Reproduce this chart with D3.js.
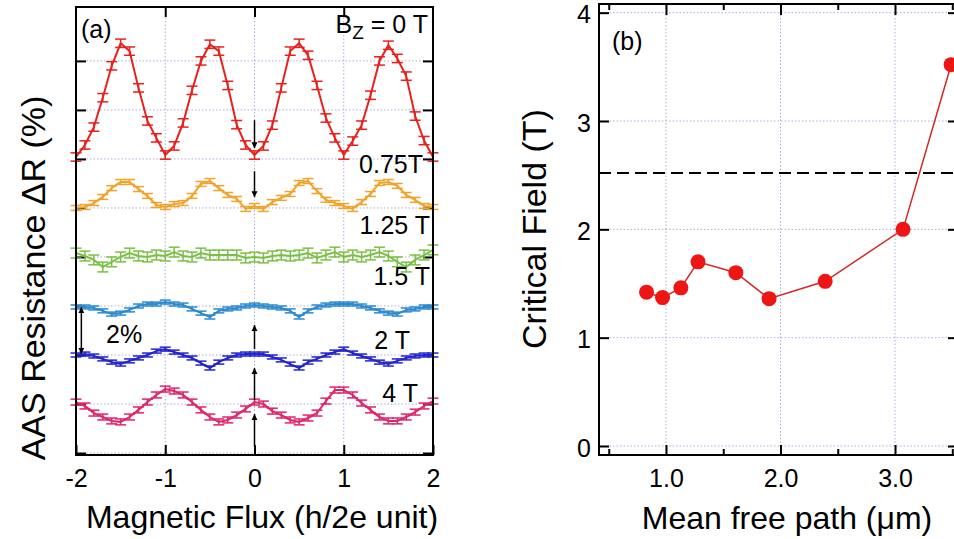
<!DOCTYPE html>
<html>
<head>
<meta charset="utf-8">
<script src="https://cdn.jsdelivr.net/npm/d3@7"></script>
<style>
  body { margin: 0; background: #fff; }
  svg { display: block; font-family: "Liberation Sans", Arial, sans-serif; }
</style>
</head>
<body>
<svg width="954" height="539"></svg>
<script>
// ---- panel (a): AAS oscillations, offset per field ----
const flux = [-2.0, -1.9, -1.8, -1.7, -1.6, -1.5, -1.4, -1.3, -1.2, -1.1, -1.0,
  -0.9, -0.8, -0.7, -0.6, -0.5, -0.4, -0.3, -0.2, -0.1, 0.0,
  0.1, 0.2, 0.3, 0.4, 0.5, 0.6, 0.7, 0.8, 0.9, 1.0,
  1.1, 1.2, 1.3, 1.4, 1.5, 1.6, 1.7, 1.8, 1.9, 2.0];

const fieldLabels = ["0 T", "0.75T", "1.25 T", "1.5 T", "2 T", "4 T"];
const offsets = [12, 10, 8, 6, 4, 2];
const errBars = [0.17, 0.1, 0.2, 0.08, 0.08, 0.12];

const dR_0T = [0.08, 0.57, 1.30, 2.50, 3.80, 4.72, 4.40, 2.90, 1.55, 0.86,
  0.16, 0.53, 1.47, 2.80, 4.00, 4.68, 4.40, 3.00, 1.40, 0.57,
  0.16, 0.53, 1.38, 2.90, 4.40, 4.72, 4.23, 3.00, 1.67, 0.86,
  0.16, 0.73, 1.38, 2.60, 4.00, 4.64, 4.10, 3.38, 1.75, 0.75, 0.08];
const dR_075T = [0.00, 0.04, 0.20, 0.45, 0.81, 1.06, 1.06, 0.77, 0.49, 0.12,
  0.04, 0.16, 0.20, 0.49, 0.98, 1.10, 0.81, 0.53, 0.37, -0.04,
  0.08, -0.04, 0.24, 0.41, 0.57, 1.02, 1.10, 0.69, 0.33, 0.20,
  0.08, -0.04, 0.24, 0.57, 1.02, 1.06, 0.90, 0.53, 0.33, 0.08, 0.04];
const dR_125T = [0.16, 0.04, -0.12, -0.41, -0.20, 0.00, 0.16, 0.04, 0.00, 0.08,
  0.04, 0.20, 0.04, 0.00, 0.16, 0.08, 0.08, 0.08, 0.08, -0.04,
  0.00, -0.04, 0.04, 0.08, 0.04, 0.08, 0.16, -0.04, 0.08, 0.20,
  0.00, 0.08, 0.00, 0.08, 0.20, 0.04, -0.20, -0.41, -0.12, 0.08, 0.29];
const dR_15T = [-0.04, -0.04, -0.08, -0.20, -0.33, -0.29, -0.16, 0.00, 0.08, 0.08,
  0.16, 0.08, 0.04, -0.12, -0.29, -0.45, -0.20, -0.12, -0.08, 0.00,
  0.04, 0.00, -0.04, -0.08, -0.20, -0.45, -0.20, -0.04, 0.04, 0.08,
  0.08, 0.08, 0.00, -0.08, -0.20, -0.29, -0.33, -0.16, -0.12, -0.04, -0.04];
const dR_2T = [0.00, 0.04, -0.04, -0.16, -0.29, -0.37, -0.24, -0.12, 0.00, 0.16,
  0.24, 0.12, 0.00, -0.12, -0.33, -0.53, -0.29, -0.12, 0.00, 0.04,
  0.04, 0.04, -0.08, -0.20, -0.37, -0.53, -0.29, -0.16, 0.00, 0.12,
  0.24, 0.08, -0.04, -0.16, -0.29, -0.37, -0.24, -0.12, -0.04, 0.00, 0.00];
const dR_4T = [0.08, -0.08, -0.37, -0.53, -0.69, -0.73, -0.53, -0.24, 0.08, 0.37,
  0.61, 0.53, 0.37, 0.08, -0.24, -0.53, -0.73, -0.65, -0.45, -0.20,
  0.08, 0.00, -0.29, -0.45, -0.65, -0.73, -0.57, -0.37, 0.12, 0.57,
  0.57, 0.37, 0.04, -0.24, -0.53, -0.69, -0.69, -0.53, -0.33, -0.08, 0.12];

const curves = [dR_0T, dR_075T, dR_125T, dR_15T, dR_2T, dR_4T];
const colors = ["#e8211d", "#f2a32b", "#79c043", "#2b89d0", "#2323cf", "#e0246b"];

// ---- panel (b): critical field vs mean free path ----
const meanFreePath = [0.83, 0.97, 1.13, 1.28, 1.61, 1.90, 2.39, 3.07, 3.49];
const criticalField = [1.42, 1.37, 1.46, 1.70, 1.60, 1.36, 1.52, 2.00, 3.52];
const pauliLimit = 2.52;

const svg = d3.select("svg");
const gridColor = "#a7afdc";

// arrow head
svg.append("defs").append("marker")
    .attr("id", "head")
    .attr("viewBox", "0 0 10 10")
    .attr("refX", 10).attr("refY", 5)
    .attr("markerWidth", 6).attr("markerHeight", 7)
    .attr("markerUnits", "userSpaceOnUse")
    .attr("orient", "auto-start-reverse")
    .append("path").attr("d", "M0,0 L10,5 L0,10 z").attr("fill", "#000");

function styleAxis(g) {
    g.select(".domain").remove();
    g.selectAll(".tick line").attr("stroke", "#000").attr("stroke-width", 2);
    g.selectAll(".tick text").attr("fill", "#000").attr("font-size", 25)
        .attr("font-family", "Liberation Sans, Arial, sans-serif");
}

// ================= panel (a) =================
const xA = d3.scaleLinear().domain([-2, 2]).range([76, 433]);
const yA = d3.scaleLinear().domain([-0.08, 18.2]).range([455, 7]);
const pa = svg.append("g");

pa.selectAll(".vgrid").data([-1, 0, 1]).enter().append("line")
    .attr("x1", d => xA(d)).attr("x2", d => xA(d))
    .attr("y1", yA.range()[1]).attr("y2", yA.range()[0])
    .attr("stroke", gridColor).attr("stroke-dasharray", "1.5,2");
pa.selectAll(".hgrid").data(d3.range(0, 17, 2)).enter().append("line")
    .attr("x1", xA.range()[0]).attr("x2", xA.range()[1])
    .attr("y1", d => yA(d)).attr("y2", d => yA(d))
    .attr("stroke", gridColor).attr("stroke-dasharray", "1.5,2");

pa.append("g").attr("transform", `translate(0,${yA.range()[0]})`)
    .call(d3.axisBottom(xA).tickValues([-2, -1, 0, 1, 2]).tickFormat(d => String(d))
        .tickSize(-10).tickPadding(14))
    .call(styleAxis);
pa.append("g").attr("transform", `translate(0,${yA.range()[1]})`)
    .call(d3.axisTop(xA).tickValues([-1, 0, 1]).tickFormat("").tickSize(-10))
    .call(styleAxis);
pa.append("g").attr("transform", `translate(${xA.range()[0]},0)`)
    .call(d3.axisLeft(yA).tickValues(d3.range(0, 17, 2)).tickFormat("").tickSize(-10))
    .call(styleAxis);
pa.append("g").attr("transform", `translate(${xA.range()[1]},0)`)
    .call(d3.axisRight(yA).tickValues(d3.range(0, 17, 2)).tickFormat("").tickSize(-10))
    .call(styleAxis);

const lineA = d3.line().x(d => xA(d.x)).y(d => yA(d.y));

curves.forEach((vals, i) => {
    const pts = vals.map((v, j) => ({ x: flux[j], y: v + offsets[i] }));
    const g = pa.append("g").attr("stroke", colors[i]).attr("fill", "none");
    g.append("path").datum(pts).attr("d", lineA).attr("stroke-width", 2);
    const e = errBars[i];
    const bars = g.selectAll(".eb").data(pts).enter().append("g").attr("stroke-width", 1.5);
    bars.append("line")
        .attr("x1", d => xA(d.x)).attr("x2", d => xA(d.x))
        .attr("y1", d => yA(d.y - e)).attr("y2", d => yA(d.y + e));
    [-e, e].forEach(s => {
        bars.append("line")
            .attr("x1", d => xA(d.x) - 5.5).attr("x2", d => xA(d.x) + 5.5)
            .attr("y1", d => yA(d.y + s)).attr("y2", d => yA(d.y + s));
    });
});

pa.append("rect")
    .attr("x", xA.range()[0]).attr("y", yA.range()[1])
    .attr("width", xA.range()[1] - xA.range()[0])
    .attr("height", yA.range()[0] - yA.range()[1])
    .attr("fill", "none").attr("stroke", "#000").attr("stroke-width", 2);

// arrows
const arrow = (x, y1, y2, both) => {
    const l = pa.append("line")
        .attr("x1", xA(x)).attr("x2", xA(x))
        .attr("y1", yA(y1)).attr("y2", yA(y2))
        .attr("stroke", "#000").attr("stroke-width", 1.5)
        .attr("marker-end", "url(#head)");
    if (both) l.attr("marker-start", "url(#head)");
};
arrow(0, 13.58, 12.44);
arrow(0, 11.5, 10.44);
arrow(0, 4.24, 5.22);
arrow(0, 2.16, 3.47);
arrow(0, 0.25, 1.59);
arrow(-1.94, 5.95, 4.05, true);

const lab = (x, y, t, anchor) => pa.append("text")
    .attr("x", x).attr("y", y).attr("text-anchor", anchor || "end")
    .attr("font-size", 25).attr("fill", "#000").text(t);

const bz = pa.append("text").attr("x", 428).attr("y", 33).attr("text-anchor", "end")
    .attr("font-size", 25).attr("fill", "#000");
bz.append("tspan").text("B");
bz.append("tspan").attr("dy", 6).attr("font-size", 19).text("Z");
bz.append("tspan").attr("dy", -6).text(" = " + fieldLabels[0]);
lab(423, 173, fieldLabels[1]);
lab(430, 234, fieldLabels[2]);
lab(430, 285, fieldLabels[3]);
lab(410, 349, fieldLabels[4]);
lab(418, 402, fieldLabels[5]);
lab(106, 343, "2%", "start");
lab(81, 38, "(a)", "start");

svg.append("text").attr("x", 262).attr("y", 528).attr("text-anchor", "middle")
    .attr("font-size", 32).text("Magnetic Flux (h/2e unit)");
svg.append("text").attr("transform", "translate(45,278) rotate(-90)")
    .attr("text-anchor", "middle").attr("font-size", 34).text("AAS Resistance ΔR (%)");

// ================= panel (b) =================
const xB = d3.scaleLinear().domain([0.415, 3.55]).range([599, 958]);
const yB = d3.scaleLinear().domain([-0.083, 4.08]).range([455, 4]);
const pb = svg.append("g");

pb.selectAll(".vgrid").data([1, 2, 3]).enter().append("line")
    .attr("x1", d => xB(d)).attr("x2", d => xB(d))
    .attr("y1", yB.range()[1]).attr("y2", yB.range()[0])
    .attr("stroke", gridColor).attr("stroke-dasharray", "1.5,2");
pb.selectAll(".hgrid").data([0, 1, 2, 3, 4]).enter().append("line")
    .attr("x1", xB.range()[0]).attr("x2", xB.range()[1])
    .attr("y1", d => yB(d)).attr("y2", d => yB(d))
    .attr("stroke", gridColor).attr("stroke-dasharray", "1.5,2");

pb.append("g").attr("transform", `translate(0,${yB.range()[0]})`)
    .call(d3.axisBottom(xB).tickValues([1, 2, 3]).tickFormat(d3.format(".1f"))
        .tickSize(-10).tickPadding(14))
    .call(styleAxis);
pb.append("g").attr("transform", `translate(0,${yB.range()[0]})`)
    .call(d3.axisBottom(xB).tickValues([0.5, 1.5, 2.5, 3.5]).tickFormat("").tickSize(-6))
    .call(styleAxis);
pb.append("g").attr("transform", `translate(0,${yB.range()[1]})`)
    .call(d3.axisTop(xB).tickValues([1, 2, 3]).tickFormat("").tickSize(-11))
    .call(styleAxis);
pb.append("g").attr("transform", `translate(0,${yB.range()[1]})`)
    .call(d3.axisTop(xB).tickValues([0.5, 1.5, 2.5, 3.5]).tickFormat("").tickSize(-6))
    .call(styleAxis);
pb.append("g").attr("transform", `translate(${xB.range()[0]},0)`)
    .call(d3.axisLeft(yB).tickValues([0, 1, 2, 3, 4]).tickFormat(d3.format("d"))
        .tickSize(-10).tickPadding(8))
    .call(styleAxis)
    .call(g => g.selectAll(".tick text").attr("dy", "0.4em"));
pb.append("g").attr("transform", `translate(${xB.range()[1]},0)`)
    .call(d3.axisRight(yB).tickValues([0, 1, 2, 3, 4]).tickFormat("").tickSize(-10))
    .call(styleAxis);

pb.append("line")
    .attr("x1", xB.range()[0]).attr("x2", xB.range()[1])
    .attr("y1", yB(pauliLimit)).attr("y2", yB(pauliLimit))
    .attr("stroke", "#000").attr("stroke-width", 2).attr("stroke-dasharray", "12,6");

const ptsB = meanFreePath.map((m, i) => ({ x: m, y: criticalField[i] }));
pb.append("path").datum(ptsB)
    .attr("d", d3.line().x(d => xB(d.x)).y(d => yB(d.y)))
    .attr("fill", "none").attr("stroke", "#d42626").attr("stroke-width", 1.5);
pb.selectAll(".pt").data(ptsB).enter().append("circle")
    .attr("cx", d => xB(d.x)).attr("cy", d => yB(d.y)).attr("r", 7.5)
    .attr("fill", "#ee1515");

pb.append("rect")
    .attr("x", xB.range()[0]).attr("y", yB.range()[1])
    .attr("width", xB.range()[1] - xB.range()[0])
    .attr("height", yB.range()[0] - yB.range()[1])
    .attr("fill", "none").attr("stroke", "#000").attr("stroke-width", 2);

pb.append("text").attr("x", 612).attr("y", 50).attr("font-size", 25).text("(b)");

svg.append("text").attr("x", 787).attr("y", 529).attr("text-anchor", "middle")
    .attr("font-size", 32).text("Mean free path (μm)");
svg.append("text").attr("transform", "translate(546,229) rotate(-90)")
    .attr("text-anchor", "middle").attr("font-size", 34).text("Critical Field (T)");
</script>
</body>
</html>
